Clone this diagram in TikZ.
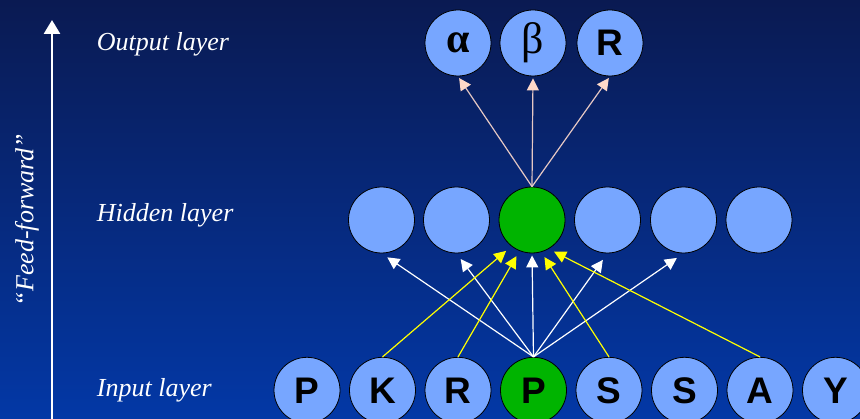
\documentclass[tikz,border=0pt]{standalone}
\usepackage{fontspec}
\setmainfont{Liberation Serif}
\setsansfont{Liberation Sans}
\usetikzlibrary{arrows.meta}
\definecolor{bgtop}{HTML}{0A1A52}
\definecolor{bgbot}{HTML}{0338A6}
\definecolor{nblue}{HTML}{77A6FF}
\definecolor{ngreen}{HTML}{00B400}
\definecolor{peach}{HTML}{FFD9C9}
\definecolor{pinkline}{HTML}{E6C8C4}
\definecolor{yel}{HTML}{FFFF00}
\tikzset{
  neuron/.style={circle, draw=black, line width=0.8pt, fill=nblue, minimum size=66pt, inner sep=0pt,
    font=\sffamily\bfseries\fontsize{37}{37}\selectfont},
  greekbold/.style={font=\rmfamily\bfseries\fontsize{42}{42}\selectfont},
  greekreg/.style={font=\rmfamily\fontsize{44}{44}\selectfont},
  active/.style={fill=ngreen},
  layerlabel/.style={anchor=base west, text=white, font=\rmfamily\itshape\fontsize{26}{26}\selectfont, inner sep=0pt},
  whitearrow/.style={draw=white, line width=1.2pt, -{Triangle[length=12pt,width=12pt]}},
  yelarrow/.style={draw=yel, line width=1.2pt, -{Triangle[length=12pt,width=12pt]}},
  outarrow/.style={draw=pinkline, line width=1.2pt, -{Triangle[length=12pt,width=12pt,fill=peach,color=peach]}},
  ffarrow/.style={draw=white, line width=2.6pt, -{Triangle[length=14pt,width=16pt]}}
}
\begin{document}
\begin{tikzpicture}[x=1pt,y=-1pt]
\useasboundingbox (0,0) rectangle (860,419);
\clip (0,0) rectangle (860,419);
\shade[top color=bgtop, bottom color=bgbot] (0,0) rectangle (860,419);

% feed-forward arrow
\coordinate (ffb) at (52,425);
\coordinate (fft) at (52,20);
\draw[ffarrow] (ffb) -- (fft);
\node[rotate=90, text=white, font=\rmfamily\itshape\fontsize{26}{26}\selectfont, inner sep=0pt] (ff) at (27,220) {“Feed-forward”};

% layer labels
\node[layerlabel] (lout) at (96.7,50.7) {Output layer};
\node[layerlabel] (lhid) at (96.7,221.7) {Hidden layer};
\node[layerlabel] (linp) at (96.7,396.7) {Input layer};

% input layer
\node[neuron] (i1) at (307,390.3) {P};
\node[neuron] (i2) at (382.5,390.3) {K};
\node[neuron] (i3) at (458,390.3) {R};
\node[neuron,active] (i4) at (533.5,390.3) {P};
\node[neuron] (i5) at (609,390.3) {S};
\node[neuron] (i6) at (684.5,390.3) {S};
\node[neuron] (i7) at (760,390.3) {A};
\node[neuron] (i8) at (835.5,390.3) {Y};

% hidden layer
\node[neuron] (h1) at (381.5,220) {};
\node[neuron] (h2) at (456.5,220) {};
\node[neuron,active] (h3) at (532,220) {};
\node[neuron] (h4) at (607.5,220) {};
\node[neuron] (h5) at (683.5,220) {};
\node[neuron] (h6) at (759,220) {};

% output layer
\node[neuron,greekbold] (o1) at (458,43) {α};
\node[neuron,greekreg] (o2) at (533,43) {β};
\node[neuron] (o3) at (610,43) {R};

% white connectors
\draw[whitearrow, shorten >=7pt] (i4.north) -- (h1.south);
\draw[whitearrow, shorten >=7pt] (i4.north) -- (h2.south);
\draw[whitearrow, shorten >=2pt] (i4.north) -- (h3.south);
\draw[whitearrow, shorten >=8pt] (i4.north) -- (h4.south);
\draw[whitearrow, shorten >=8pt] (i4.north) -- (h5.south);

% yellow connectors
\draw[yelarrow, shorten >=7pt] (i2.north) -- (h3.-128);
\draw[yelarrow, shorten >=6pt] (i3.north) -- (h3.-112);
\draw[yelarrow, shorten >=6pt] (i5.north) -- (h3.-74);
\draw[yelarrow, shorten >=6pt] (i7.north) -- (h3.-60);

% output connectors
\draw[outarrow, shorten >=2pt] (h3.north) -- (o1.south);
\draw[outarrow, shorten >=2pt] (h3.north) -- (o2.south);
\draw[outarrow, shorten >=2pt] (h3.north) -- (o3.south);
\end{tikzpicture}
\end{document}
